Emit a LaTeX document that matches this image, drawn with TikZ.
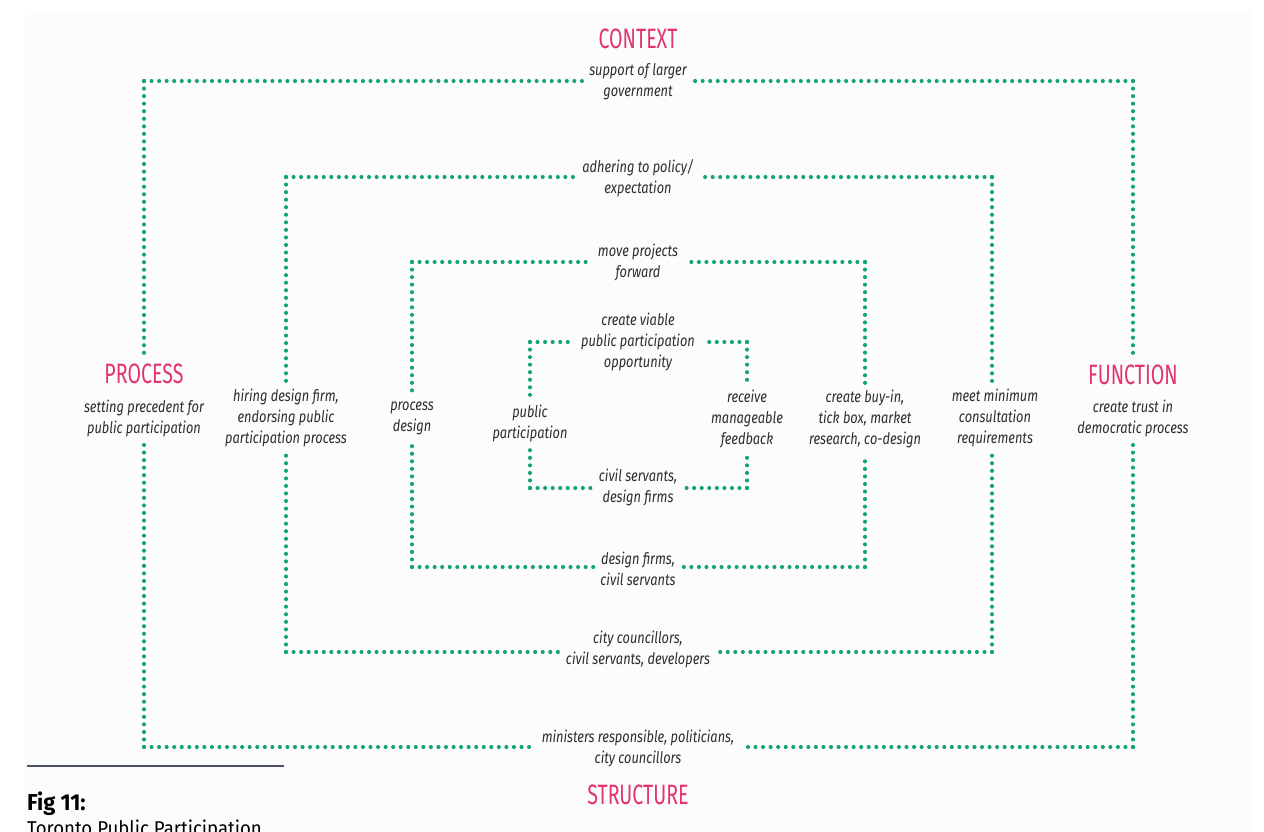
\documentclass[tikz,border=0pt]{standalone}
\usepackage{fontspec}
\newfontfamily\labfont{Fira Sans}[FakeStretch=0.8]
\newfontfamily\hdfont{Fira Sans}[FakeStretch=0.7]
\newfontfamily\capfont{Fira Sans}[FakeStretch=0.93]
\newfontfamily\capboldfont{Fira Sans}[FakeStretch=0.95]
\definecolor{dotgreen}{RGB}{20,162,120}
\definecolor{accent}{RGB}{226,52,110}
\definecolor{labgray}{RGB}{45,45,50}
\definecolor{rulecol}{RGB}{75,82,98}
\definecolor{panel}{RGB}{252,252,252}
\tikzset{
  dots/.style={draw=dotgreen, line width=4.1pt, line cap=round, dash pattern=on 0pt off 7.55pt},
  lab/.style={font={\labfont\itshape\fontsize{16}{21}\selectfont}, text=labgray, align=center, inner sep=7pt},
  hd/.style={font={\hdfont\fontsize{28}{30}\selectfont}, text=accent, inner sep=5pt},
  captext/.style={anchor=base west, inner sep=0pt, text=black}
}
\begin{document}
\begin{tikzpicture}[x=1pt,y=-1pt]
\useasboundingbox (0,0) rectangle (1264,831);
\fill[white] (0,0) rectangle (1264,831);
\fill[panel] (25,10) rectangle (1252,831);

% headings
\node[hd] (context) at (638,39) {CONTEXT};
\node[hd] (structure) at (638,795) {STRUCTURE};
\node[hd] (process) at (144,374) {PROCESS};
\node[hd] (function) at (1133,375) {FUNCTION};
\node[lab] (procd) at (144,418) {setting precedent for\\public participation};
\node[lab] (funcd) at (1133,418) {create trust in\\democratic process};

% outer ring
\node[lab] (otop) at (638,82) {support of larger\\government};
\node[lab] (obot) at (638,748) {ministers responsible, politicians,\\city councillors};
% second ring
\node[lab] (btop) at (638,178) {adhering to policy/\\expectation};
\node[lab] (bbot) at (638,649) {city councillors,\\civil servants, developers};
\node[lab] (bleft) at (286,418) {hiring design firm,\\endorsing public\\participation process};
\node[lab] (bright) at (995,418) {meet minimum\\consultation\\requirements};
% third ring
\node[lab] (ctop) at (638,262) {move projects\\forward};
\node[lab] (cbot) at (638,569) {design firms,\\civil servants};
\node[lab] (cleft) at (412,418) {process\\design};
\node[lab] (cright) at (865,419) {create buy-in,\\tick box, market\\research, co-design};
% inner ring
\node[lab] (dtop) at (638,342) {create viable\\public participation\\opportunity};
\node[lab] (dbot) at (638,487) {civil servants,\\design firms};
\node[lab] (dleft) at (530,423) {public\\participation};
\node[lab] (dright) at (747,419) {receive\\manageable\\feedback};

% ring corners
\coordinate (oTL) at (144,81);  \coordinate (oTR) at (1133,81);
\coordinate (oBL) at (144,747); \coordinate (oBR) at (1133,747);
\coordinate (bTL) at (286,177); \coordinate (bTR) at (992,177);
\coordinate (bBL) at (286,652); \coordinate (bBR) at (992,652);
\coordinate (cTL) at (412,262); \coordinate (cTR) at (865,262);
\coordinate (cBL) at (412,567); \coordinate (cBR) at (865,567);
\coordinate (dTL) at (530,342); \coordinate (dTR) at (747,342);
\coordinate (dBL) at (530,488); \coordinate (dBR) at (747,488);

% outer ring
\draw[dots] (oTL) -- (oTL -| otop.west);
\draw[dots] (oTR) -- (oTR -| otop.east);
\draw[dots] (oTL) -- (oTL |- process.north);
\draw[dots] (oTR) -- (oTR |- function.north);
\draw[dots] (oBL) -- (oBL |- procd.south);
\draw[dots] (oBR) -- (oBR |- funcd.south);
\draw[dots] (oBL) -- (oBL -| obot.west);
\draw[dots] (oBR) -- (oBR -| obot.east);
% second ring
\draw[dots] (bTL) -- (bTL -| btop.west);
\draw[dots] (bTR) -- (bTR -| btop.east);
\draw[dots] (bTL) -- (bTL |- bleft.north);
\draw[dots] (bTR) -- (bTR |- bright.north);
\draw[dots] (bBL) -- (bBL |- bleft.south);
\draw[dots] (bBR) -- (bBR |- bright.south);
\draw[dots] (bBL) -- (bBL -| bbot.west);
\draw[dots] (bBR) -- (bBR -| bbot.east);
% third ring
\draw[dots] (cTL) -- (cTL -| ctop.west);
\draw[dots] (cTR) -- (cTR -| ctop.east);
\draw[dots] (cTL) -- (cTL |- cleft.north);
\draw[dots] (cTR) -- (cTR |- cright.north);
\draw[dots] (cBL) -- (cBL |- cleft.south);
\draw[dots] (cBR) -- (cBR |- cright.south);
\draw[dots] (cBL) -- (cBL -| cbot.west);
\draw[dots] (cBR) -- (cBR -| cbot.east);
% inner ring
\draw[dots] (dTL) -- (dTL -| dtop.west);
\draw[dots] (dTR) -- (dTR -| dtop.east);
\draw[dots] (dTL) -- (dTL |- dleft.north);
\draw[dots] (dTR) -- (dTR |- dright.north);
\draw[dots] (dBL) -- (dBL |- dleft.south);
\draw[dots] (dBR) -- (dBR |- dright.south);
\draw[dots] (dBL) -- (dBL -| dbot.west);
\draw[dots] (dBR) -- (dBR -| dbot.east);

% caption
\draw[rulecol, line width=2.5pt] (27,766) -- (284,766);
\node[captext, font={\capboldfont\bfseries\fontsize{23}{26}\selectfont}] (figno) at (27,810) {Fig 11:};
\node[captext, font={\capfont\fontsize{20}{24}\selectfont}] (figtitle) at (27,835) {Toronto Public Participation};
\end{tikzpicture}
\end{document}
